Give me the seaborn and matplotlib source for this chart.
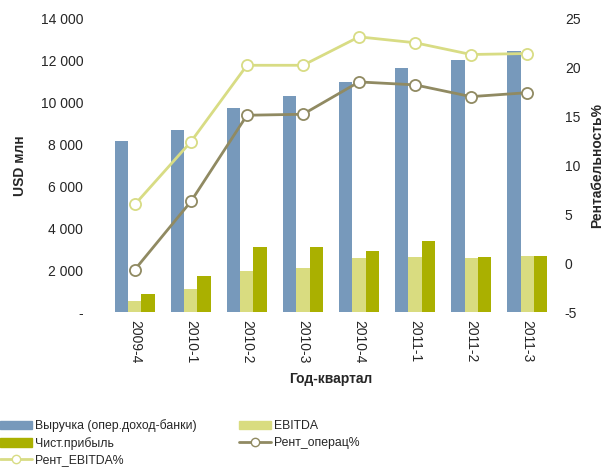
import pandas as pd
import numpy as np
import matplotlib.pyplot as plt
import seaborn as sns
from matplotlib.ticker import FuncFormatter
from matplotlib.patches import Patch
from matplotlib.lines import Line2D

quarters = ["2009-4", "2010-1", "2010-2", "2010-3", "2010-4", "2011-1", "2011-2", "2011-3"]
revenue = [8140, 8670, 9710, 10290, 10950, 11620, 12000, 12430]
ebitda = [520, 1090, 1950, 2090, 2570, 2620, 2570, 2660]
net_profit = [860, 1710, 3090, 3090, 2900, 3380, 2620, 2660]
rent_ebitda = [6.0, 12.4, 20.2, 20.2, 23.1, 22.5, 21.3, 21.4]
rent_oper = [-0.65, 6.3, 15.1, 15.2, 18.5, 18.2, 17.0, 17.4]

bar_names = ["Выручка (опер.доход-банки)", "EBITDA", "Чист.прибыль"]
bar_colors = ["#7799bb", "#d9dc80", "#aab000"]
c_oper = "#908a62"
c_ebitda = "#d8dc84"

sns.set_style("white")
plt.rcParams["font.family"] = ["Liberation Sans", "DejaVu Sans"]
plt.rcParams["axes.unicode_minus"] = False

df = pd.DataFrame({
    "quarter": quarters * 3,
    "series": [bar_names[0]] * 8 + [bar_names[1]] * 8 + [bar_names[2]] * 8,
    "value": revenue + ebitda + net_profit,
})

fig = plt.figure(figsize=(6.04, 4.68), dpi=100)
ax = fig.add_axes([0.177, 0.333, 0.742, 0.628])

sns.barplot(data=df, x="quarter", y="value", hue="series", order=quarters,
            hue_order=bar_names, palette=bar_colors, width=0.7,
            saturation=1, linewidth=0, ax=ax, legend=False)
ax.set_ylim(0, 14000)
ax.set_yticks(np.arange(0, 14001, 2000))
ax.yaxis.set_major_formatter(FuncFormatter(
    lambda v, p: "-" if v == 0 else f"{int(v):,}".replace(",", " ")))
ax.tick_params(axis="y", labelsize=10, length=0, pad=17)
ax.tick_params(axis="x", labelsize=10, length=0, pad=6)
plt.setp(ax.get_xticklabels(), rotation=270)
ax.set_xlabel("Год-квартал", fontsize=10, fontweight="bold", labelpad=6)
ax.set_ylabel("USD млн", fontsize=10, fontweight="bold")
ax.yaxis.set_label_coords(-0.178, 0.5)
for s in ax.spines.values():
    s.set_visible(False)

ax2 = ax.twinx()
line_df = pd.DataFrame({"quarter": quarters, "oper": rent_oper, "ebitda": rent_ebitda})
sns.lineplot(data=line_df, x="quarter", y="ebitda", color=c_ebitda, lw=2,
             marker="o", markersize=8, markerfacecolor="white",
             markeredgecolor=c_ebitda, markeredgewidth=1.3, ax=ax2, sort=False)
sns.lineplot(data=line_df, x="quarter", y="oper", color=c_oper, lw=2,
             marker="o", markersize=8, markerfacecolor="white",
             markeredgecolor=c_oper, markeredgewidth=1.3, ax=ax2, sort=False)
ax2.set_ylim(-5, 25)
ax2.set_yticks(np.arange(-5, 26, 5))
ax2.tick_params(axis="y", labelsize=10, length=0, pad=7)
ax2.set_ylabel("Рентабельность%", fontsize=10, fontweight="bold")
ax2.yaxis.set_label_coords(1.079, 0.5)
ax2.set_xlim(-0.5, 7.5)
for s in ax2.spines.values():
    s.set_visible(False)

handles = [
    Patch(color=bar_colors[0], label=bar_names[0]),
    Patch(color=bar_colors[2], label=bar_names[2]),
    Line2D([], [], color=c_ebitda, lw=2, marker="o", markersize=6,
           markerfacecolor="white", markeredgecolor=c_ebitda, label="Рент_EBITDA%"),
    Patch(color=bar_colors[1], label=bar_names[1]),
    Line2D([], [], color=c_oper, lw=2, marker="o", markersize=6,
           markerfacecolor="white", markeredgecolor=c_oper, label="Рент_операц%"),
]
fig.legend(handles=handles, ncol=2, loc="lower left", bbox_to_anchor=(0.0, 0.004),
           frameon=False, fontsize=8.8, handlelength=2.6, handleheight=0.7,
           labelspacing=0.36, columnspacing=3.5, handletextpad=0.25,
           borderaxespad=0.0, borderpad=0.0)

fig.savefig("out.png", dpi=100)
